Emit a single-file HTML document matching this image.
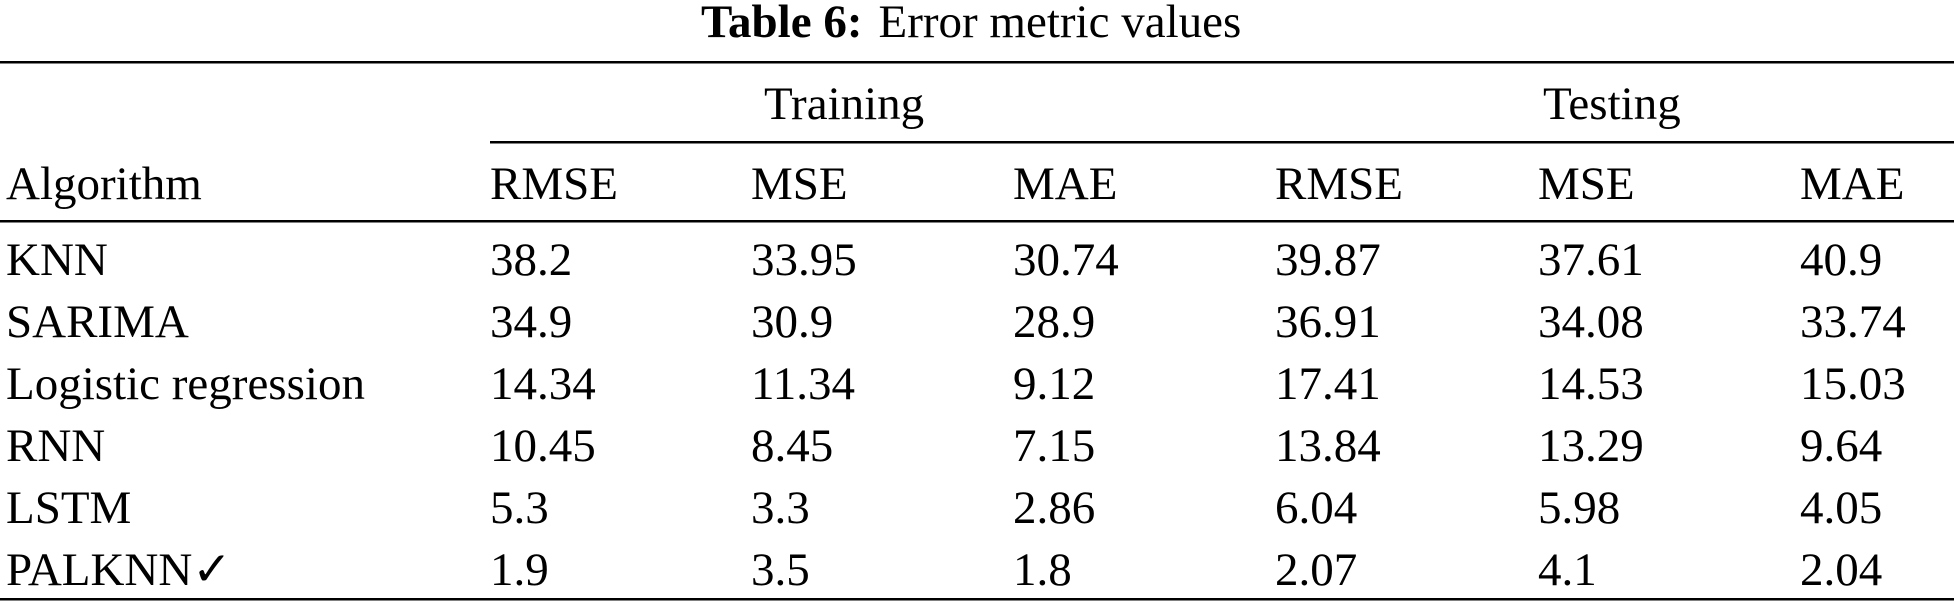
<!DOCTYPE html>
<html><head><meta charset="utf-8"><style>
html,body{margin:0;padding:0;background:#fff;}
svg{display:block;font-family:"Liberation Serif","DejaVu Serif",serif;}
</style></head><body>
<svg id="tbl" width="1954" height="608" viewBox="0 0 1954 608">
<text x="701" y="37" font-size="47" fill="#000"><tspan font-weight="bold">Table 6:</tspan><tspan dx="16">Error metric values</tspan></text>
<rect x="0" y="61" width="1954" height="2.5" fill="#000"/>
<text x="764" y="119" font-size="47">Training</text>
<text x="1543" y="119" font-size="47">Testing</text>
<rect x="490" y="141" width="1464" height="2.5" fill="#000"/>
<text x="6" y="199" font-size="47">Algorithm</text>
<rect x="0" y="220" width="1954" height="2.5" fill="#000"/>
<rect x="0" y="598" width="1954" height="2.5" fill="#000"/>
</svg>
<script>
const algorithms = ["KNN","SARIMA","Logistic regression","RNN","LSTM","PALKNN\u2713"];
const metricHeaders = ["RMSE","MSE","MAE","RMSE","MSE","MAE"];
const trainRMSE = ["38.2","34.9","14.34","10.45","5.3","1.9"];
const trainMSE = ["33.95","30.9","11.34","8.45","3.3","3.5"];
const trainMAE = ["30.74","28.9","9.12","7.15","2.86","1.8"];
const testRMSE = ["39.87","36.91","17.41","13.84","6.04","2.07"];
const testMSE = ["37.61","34.08","14.53","13.29","5.98","4.1"];
const testMAE = ["40.9","33.74","15.03","9.64","4.05","2.04"];
const colNames = ["train-rmse","train-mse","train-mae","test-rmse","test-mse","test-mae"];
const columns = [trainRMSE,trainMSE,trainMAE,testRMSE,testMSE,testMAE];
const colX = [490,751,1013,1275,1538,1800];
const NS = "http://www.w3.org/2000/svg";
const svg = document.getElementById("tbl");
function rowY(i){ return 275 + i*62; }
function addText(x,y,s){
  const t = document.createElementNS(NS,"text");
  t.setAttribute("x",x); t.setAttribute("y",y);
  t.setAttribute("font-size","47");
  t.textContent = s;
  svg.appendChild(t);
  return t;
}
metricHeaders.forEach((h,j)=>{
  const t = addText(colX[j],199,h);
  
  
});
algorithms.forEach((a,i)=>{
  const t = addText(6,rowY(i),a);
  
  
  columns.forEach((col,j)=>{
    const c = addText(colX[j],rowY(i),col[i]);
    
    
  });
});
</script>
</body></html>
